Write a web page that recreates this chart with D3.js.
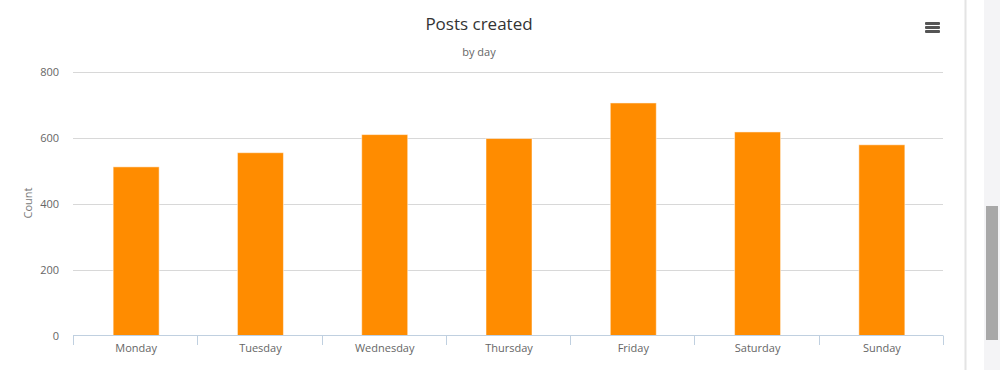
<!DOCTYPE html>
<html><head><meta charset="utf-8">
<script src="https://cdn.jsdelivr.net/npm/d3@7"></script>
<style>
html,body{margin:0;padding:0;background:#fff;overflow:hidden;}
svg{display:block;font-family:"Open Sans","DejaVu Sans",Verdana,sans-serif;}
</style></head>
<body>
<svg id="c" width="1000" height="370"></svg>
<script>
const categories = ["Monday","Tuesday","Wednesday","Thursday","Friday","Saturday","Sunday"];
const counts = [512, 555, 610, 598, 706, 618, 579];
const yTicks = [0, 200, 400, 600, 800];
const titleText = "Posts created";
const subtitleText = "by day";
const yAxisTitle = "Count";

const svg = d3.select("#c");
const m = {left: 74, right: 944, top: 72, bottom: 335.5};

const x = d3.scaleBand().domain(categories).range([m.left, m.right]).paddingInner(0).paddingOuter(0);
const y = d3.scaleLinear().domain([0, 800]).range([m.bottom, m.top]);

// gridlines
svg.append("g").selectAll("line").data(yTicks.filter(d=>d>0)).join("line")
  .attr("x1", m.left-1).attr("x2", m.right-1)
  .attr("y1", d=>Math.round(y(d))+0.5).attr("y2", d=>Math.round(y(d))+0.5)
  .attr("stroke", "#d8d8d8").attr("stroke-width", 1);

// y labels
svg.append("g").selectAll("text").data(yTicks).join("text")
  .attr("x", 59).attr("y", d=>y(d)+4)
  .attr("text-anchor","end").attr("font-size", 11).attr("fill","#666")
  .text(d=>d);

// bars
const bw = 46;
svg.append("g").selectAll("rect").data(categories).join("rect")
  .attr("x", d=>x(d)+x.bandwidth()/2-bw/2)
  .attr("y", (d,i)=>y(counts[i]))
  .attr("width", bw)
  .attr("height", (d,i)=>y(0)-y(counts[i]))
  .attr("fill", "#ff8c00")
  .attr("stroke", "#ffffff").attr("stroke-opacity",0.5).attr("stroke-width",1);

// x axis
const xa = svg.append("g");
xa.append("line").attr("x1", m.left-1).attr("x2", m.right-1)
  .attr("y1", 335.5).attr("y2", 335.5).attr("stroke","#c0d0e0");
const bounds = categories.map(d=>x(d)).concat([m.right]);
xa.selectAll("line.t").data(bounds).join("line").attr("class","t")
  .attr("x1", d=>Math.round(d)-0.5).attr("x2", d=>Math.round(d)-0.5)
  .attr("y1", 335.5).attr("y2", 345).attr("stroke","#c0d0e0");
xa.selectAll("text").data(categories).join("text")
  .attr("x", d=>x(d)+x.bandwidth()/2).attr("y", 352)
  .attr("text-anchor","middle").attr("font-size",11).attr("fill","#666")
  .text(d=>d);

// titles
svg.append("text").attr("x", 479).attr("y", 30).attr("text-anchor","middle")
  .attr("font-size", 17).attr("fill","#333").text(titleText);
svg.append("text").attr("x", 479).attr("y", 56).attr("text-anchor","middle")
  .attr("font-size", 11).attr("fill","#666").text(subtitleText);
svg.append("text").attr("transform","translate(32,203) rotate(-90)")
  .attr("text-anchor","middle").attr("font-size",11).attr("fill","#777").text(yAxisTitle);

// menu icon
[0,4,8].forEach(o=>{
  svg.append("rect").attr("x",925).attr("y",22+o).attr("width",15).attr("height",3)
    .attr("rx",1).attr("fill","#555");
});

// right frame & scrollbar
svg.append("line").attr("x1",965.5).attr("x2",965.5).attr("y1",0).attr("y2",370)
  .attr("stroke","#e4e4e4").attr("stroke-width",2);
svg.append("rect").attr("x",984).attr("y",0).attr("width",16).attr("height",370).attr("fill","#f4f4f6");
svg.append("rect").attr("x",986).attr("y",206).attr("width",12).attr("height",134).attr("fill","#a8a8a8");
</script>
</body></html>
